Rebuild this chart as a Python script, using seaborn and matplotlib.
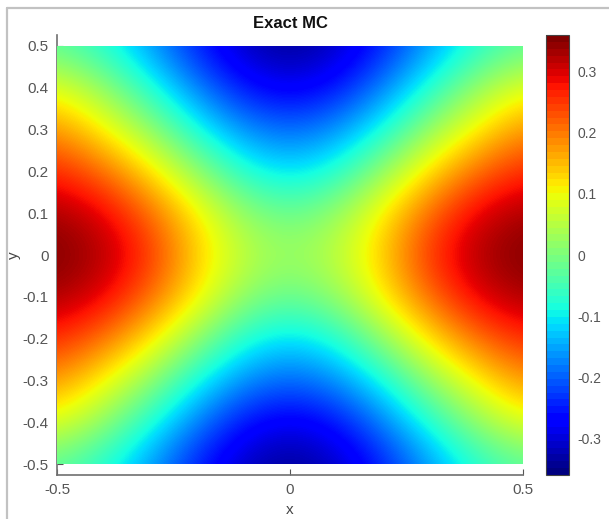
import numpy as np
import matplotlib
matplotlib.use("Agg")
import matplotlib.pyplot as plt
import seaborn as sns
from matplotlib.lines import Line2D
from matplotlib.patches import Rectangle

# values, top row is y=0.5, first column is x=-0.5
x_vals = [-0.5, -0.4, -0.3, -0.2, -0.1, 0, 0.1, 0.2, 0.3, 0.4, 0.5]
y_vals = [0.5, 0.4, 0.3, 0.2, 0.1, 0, -0.1, -0.2, -0.3, -0.4, -0.5]
mc_values = [
    [-0.03, -0.08, -0.16, -0.25, -0.32, -0.35, -0.32, -0.25, -0.16, -0.08, -0.03],
    [0.09, 0.02, -0.08, -0.18, -0.26, -0.29, -0.26, -0.18, -0.08, 0.02, 0.09],
    [0.18, 0.11, 0.02, -0.09, -0.17, -0.20, -0.17, -0.09, 0.02, 0.11, 0.18],
    [0.265, 0.21, 0.125, 0.02, -0.08, -0.115, -0.08, 0.02, 0.125, 0.21, 0.265],
    [0.335, 0.30, 0.215, 0.115, 0.02, -0.02, 0.02, 0.115, 0.215, 0.30, 0.335],
    [0.36, 0.33, 0.26, 0.14, 0.06, 0.025, 0.06, 0.14, 0.26, 0.33, 0.36],
    [0.335, 0.30, 0.215, 0.115, 0.02, -0.02, 0.02, 0.115, 0.215, 0.30, 0.335],
    [0.265, 0.21, 0.125, 0.02, -0.08, -0.115, -0.08, 0.02, 0.125, 0.21, 0.265],
    [0.18, 0.11, 0.02, -0.09, -0.17, -0.20, -0.17, -0.09, 0.02, 0.11, 0.18],
    [0.09, 0.02, -0.08, -0.18, -0.26, -0.29, -0.26, -0.18, -0.08, 0.02, 0.09],
    [-0.03, -0.08, -0.16, -0.25, -0.32, -0.35, -0.32, -0.25, -0.16, -0.08, -0.03],
]
x_ticks = [-0.5, 0, 0.5]
x_labels = ["-0.5", "0", "0.5"]
y_ticks = [-0.5, -0.4, -0.3, -0.2, -0.1, 0, 0.1, 0.2, 0.3, 0.4, 0.5]
y_labels = ["-0.5", "-0.4", "-0.3", "-0.2", "-0.1", "0", "0.1", "0.2", "0.3", "0.4", "0.5"]
cbar_ticks = [-0.3, -0.2, -0.1, 0, 0.1, 0.2, 0.3]
cbar_labels = ["-0.3", "-0.2", "-0.1", "0", "0.1", "0.2", "0.3"]

W, H = 609, 519
GREY = "#555555"

sns.set_theme(style="white")
plt.rcParams["font.family"] = ["Liberation Sans", "DejaVu Sans"]

fig = plt.figure(figsize=(W / 100, H / 100), dpi=100)
ax = fig.add_axes([57 / W, 1 - 475 / H, 466 / W, 440 / H])
cax = fig.add_axes([546 / W, 1 - 475 / H, 23 / W, 440 / H])

sns.heatmap(mc_values, cmap=plt.get_cmap("jet", 64), vmin=-0.36, vmax=0.36, ax=ax, cbar_ax=cax,
            xticklabels=False, yticklabels=False)

# smooth the table like the original surface, heatmap cells are the same data
ax.collections[0].set_visible(False)
img = ax.imshow(mc_values, cmap="jet", vmin=-0.36, vmax=0.36, interpolation="bicubic",
                extent=(0, 11, 11, 0), aspect="auto", zorder=3)
img.set_clip_path(Rectangle((0.5, 0.5), 10, 10, transform=ax.transData))


def to_col(v):
    return (v + 0.5) * 10 + 0.5


def to_row(v):
    return (0.5 - v) * 10 + 0.5


ax.set_xlim(to_col(-0.5), to_col(0.5))
ax.set_ylim(to_row(-0.5263), to_row(0.5263))

ax.set_xticks([to_col(v) for v in x_ticks])
ax.set_xticklabels(x_labels, fontsize=11, color=GREY)
ax.set_yticks([to_row(v) for v in y_ticks])
ax.set_yticklabels(y_labels, fontsize=11, color=GREY, rotation=0)
ax.tick_params(axis="both", direction="in", length=4, width=0.8, color="#555555",
               pad=6, bottom=True, left=True)

for side in ["top", "right"]:
    ax.spines[side].set_visible(False)
for side in ["left", "bottom"]:
    ax.spines[side].set_visible(True)
    ax.spines[side].set_color("#707070")
    ax.spines[side].set_linewidth(1.2)

ax.set_xlabel("x", fontsize=11, color="#444444", labelpad=4)
ax.set_ylabel("y", fontsize=11, color="#444444", labelpad=1)
ax.set_title("Exact MC", fontsize=12, fontweight="bold", color="#111111", pad=5)

cbar = ax.collections[0].colorbar
cbar.set_ticks(cbar_ticks)
cbar.set_ticklabels(cbar_labels)
cbar.ax.tick_params(direction="in", length=3, width=0.8, color="#444444", labelsize=10,
                    labelcolor=GREY, pad=6, right=True)
cbar.outline.set_visible(True)
cbar.outline.set_edgecolor("#444444")
cbar.outline.set_linewidth(0.8)

# grey frame from the screenshot, top and left only
fig.add_artist(Line2D([6.5 / W, 6.5 / W], [0, 1 - 8 / H], color="#c2c2c2", lw=1.6))
fig.add_artist(Line2D([6.5 / W, 1], [1 - 8 / H, 1 - 8 / H], color="#c2c2c2", lw=1.6))

fig.savefig("out.png", dpi=100)
